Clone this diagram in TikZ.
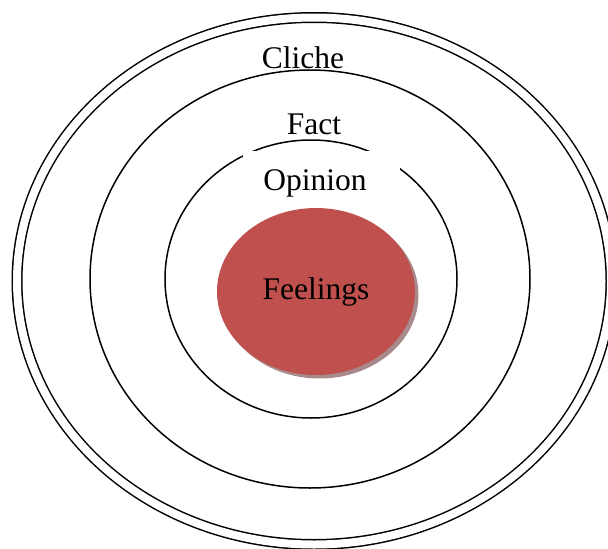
\documentclass[tikz,border=0pt]{standalone}
\usepackage{fontspec}
\setmainfont{Liberation Serif}
\usetikzlibrary{shapes.geometric, shadows}
\definecolor{feelred}{HTML}{C0504D}
\definecolor{feelshadow}{HTML}{A88A8C}

\begin{document}
\begin{tikzpicture}[x=1pt, y=-1pt, every node/.style={font=\fontsize{31.5}{37}\selectfont}]
    \useasboundingbox (0,0) rectangle (608,549);
    % rings, outermost first
    \draw[line width=1.5pt, double, double distance=8pt] (314,281) ellipse [x radius=297pt, y radius=263.5pt];
    \draw[line width=1.5pt] (310,279) ellipse [x radius=220pt, y radius=209pt];
    \draw[line width=1.5pt] (311,279) ellipse [x radius=146pt, y radius=139pt];
    % labels
    \node (cliche) at (303,58) {Cliche};
    \node (fact) at (314,124) {Fact};
    \node[fill=white, minimum width=157pt, minimum height=64pt] (opinion) at (321.5,183) {Opinion\kern13pt};
    \node[ellipse, fill=feelred, minimum width=198pt, minimum height=167pt,
          drop shadow={shadow xshift=3.5pt, shadow yshift=-3.5pt, fill=feelshadow, opacity=1}] (feelings) at (316,291.5) {Feelings};
\end{tikzpicture}
\end{document}
